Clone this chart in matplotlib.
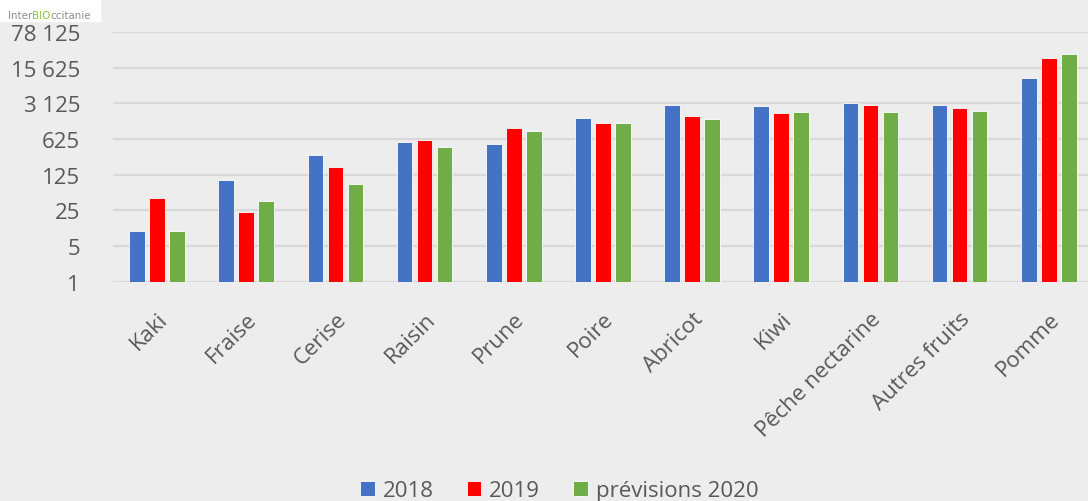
import numpy as np
import matplotlib.pyplot as plt
from matplotlib.ticker import FixedLocator, NullLocator

fruits = ['Kaki', 'Fraise', 'Cerise', 'Raisin', 'Prune', 'Poire', 'Abricot',
          'Kiwi', 'Pêche nectarine', 'Autres fruits', 'Pomme']
v_2018 = [10, 100, 300, 550, 495, 1600, 2950, 2750, 3200, 2900, 10000]
v_2019 = [43, 23, 175, 600, 1020, 1280, 1750, 2030, 2870, 2580, 24000]
v_2020 = [10, 38, 82, 430, 910, 1270, 1550, 2100, 2120, 2190, 28800]
series_names = ['2018', '2019', 'prévisions 2020']
series_colors = ['#4472C4', '#FF0000', '#70AD47']
y_ticks = [1, 5, 25, 125, 625, 3125, 15625, 78125]
y_labels = ['1', '5', '25', '125', '625', '3 125', '15 625', '78 125']

plt.rcParams['font.family'] = ['Open Sans', 'DejaVu Sans']
bg = '#EDEDED'
txt = '#595959'

fig = plt.figure(figsize=(10.88, 5.02), dpi=100, facecolor=bg)
ax = fig.add_axes([112.5 / 1088, 1 - 282.7 / 502, 1 - 112.5 / 1088, (282.7 - 33) / 502])
ax.set_facecolor(bg)

x = np.arange(len(fruits))
w = 0.176
step = 0.224
for i, (vals, name, col) in enumerate(zip([v_2018, v_2019, v_2020], series_names, series_colors)):
    ax.bar(x + (i - 1) * step, vals, width=w, color=col, label=name,
           edgecolor='white', linewidth=0.6, zorder=3)

ax.set_yscale('log', base=5)
ax.set_ylim(1, 78125)
ax.yaxis.set_major_locator(FixedLocator(y_ticks))
ax.yaxis.set_minor_locator(NullLocator())
ax.set_yticklabels(y_labels)
ax.grid(axis='y', color='#D9D9D9', linewidth=1.6, zorder=0)
ax.set_xlim(-0.5, 10.44)
ax.set_xticks(x)
ax.set_xticklabels(fruits, rotation=45, ha='right', rotation_mode='anchor')
for s in ax.spines.values():
    s.set_visible(False)
ax.tick_params(axis='both', length=0, labelsize=16, colors=txt)
ax.tick_params(axis='y', pad=23.4)
ax.tick_params(axis='x', pad=19)

fig.legend(loc='lower center', bbox_to_anchor=(0.514, -0.04), ncol=3, frameon=False,
           fontsize=16, labelcolor=txt, handlelength=0.65, handleheight=0.65,
           handletextpad=0.35, columnspacing=1.5)

# logo
fig.patches.append(plt.Rectangle((0, 1 - 22 / 502), 100 / 1088, 22 / 502,
                                 transform=fig.transFigure, color='white', zorder=5))
renderer = fig.canvas.get_renderer()
xpos = 8
for part, col in [('Inter', '#8C8C8C'), ('BIO', '#8DC63F'), ('ccitanie', '#8C8C8C')]:
    t = fig.text(xpos / 1088, 1 - 19 / 502, part, fontsize=7.4, color=col, zorder=6,
                 family=['Liberation Sans Narrow', 'DejaVu Sans'])
    xpos += t.get_window_extent(renderer).width

fig.savefig('out.png', dpi=100, facecolor=bg)
